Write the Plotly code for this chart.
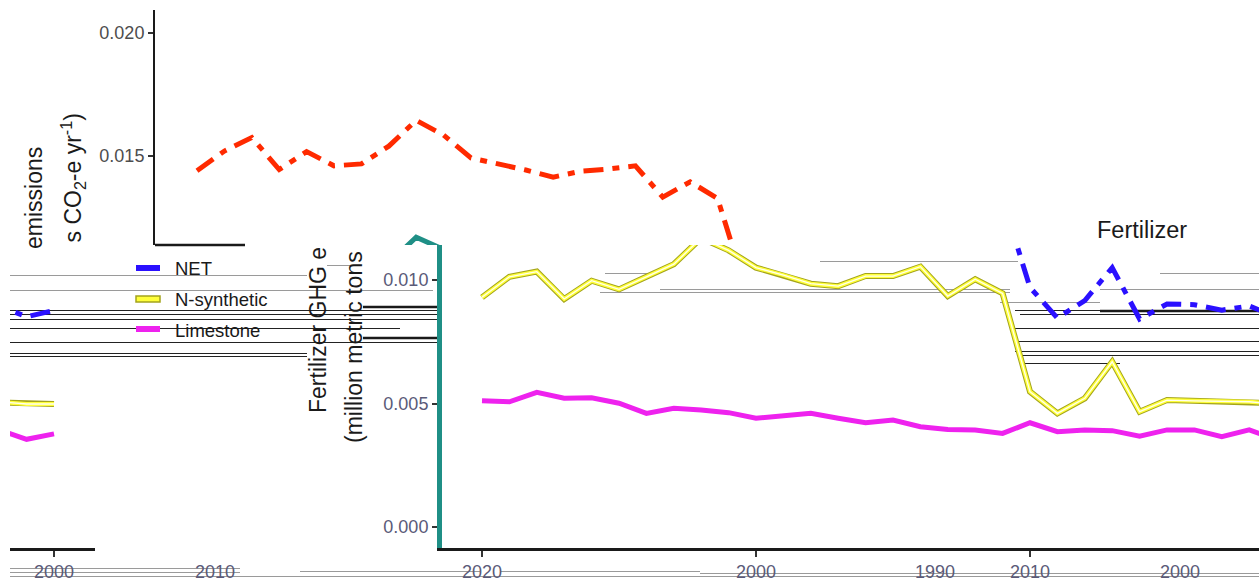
import plotly.graph_objects as go

# ---------------- data (values in million metric tons CO2-e) ----------------
years = list(range(1990, 2021))
net = [0.01440, 0.01520, 0.01575, 0.01445, 0.01518, 0.01460, 0.01468, 0.01540, 0.01645, 0.01585,
       0.01492, 0.01468, 0.01443, 0.01414, 0.01438, 0.01447, 0.01460, 0.01333, 0.01395, 0.01327,
       0.00970, 0.00846, 0.00917, 0.01050, 0.00842, 0.00903, 0.00900, 0.00878, 0.00895, 0.00851, 0.00877]
n_synthetic = [0.00930, 0.01013, 0.01034, 0.00923, 0.00997, 0.00962, 0.01013, 0.01064, 0.01170, 0.01120,
               0.01050, 0.01020, 0.00985, 0.00975, 0.01016, 0.01016, 0.01054, 0.00935, 0.01003, 0.00946,
               0.00548, 0.00460, 0.00521, 0.00669, 0.00467, 0.00514, 0.00511, 0.00510, 0.00507, 0.00498, 0.00498]
limestone = [0.00511, 0.00507, 0.00545, 0.00521, 0.00523, 0.00501, 0.00460, 0.00481, 0.00474, 0.00463,
             0.00440, 0.00449, 0.00460, 0.00440, 0.00422, 0.00433, 0.00406, 0.00395, 0.00393, 0.00379,
             0.00422, 0.00386, 0.00393, 0.00390, 0.00368, 0.00393, 0.00393, 0.00366, 0.00393, 0.00355, 0.00377]

series_names = ["NET", "N-synthetic", "Limestone"]
y_tick_top = [0.015, 0.020]
y_tick_main = [0.000, 0.005, 0.010]
x_tick_vals = [1990, 2000, 2010]
x_tick_text = ["2020", "2000", "2010"]
x_tick_vals_frag = [2020]
x_tick_text_frag = ["2000"]
title_text = "Fertilizer"
ytitle_1 = "Fertilizer GHG emissions"
ytitle_2 = "(million metric tons CO<sub>2</sub>-e yr<sup>-1</sup>)"

# ---------------- helpers ----------------
W, H = 1259, 581
def px(x):
    return x / W
def py(y):
    return 1 - y / H

FONT = "Arial, Liberation Sans, sans-serif"
TICK_GRAY = "#4d4d4d"
TICK_BLUE = "#5a5a78"
RED = "#ff2a00"
BLUE = "#2a10ff"
MAGENTA = "#ee22ee"
OLIVE = "#a4a41c"
YELLOW = "#ffff3a"
TEAL = "#1f8f86"
DASH = "20px,9px,7px,9px"

fig = go.Figure()

# --- top slice (shifted copy) ---
fig.add_trace(go.Scatter(x=years, y=net, mode="lines", xaxis="x", yaxis="y",
                         line=dict(color=RED, width=5, dash=DASH), showlegend=False))
fig.add_trace(go.Scatter(x=years, y=n_synthetic, mode="lines", xaxis="x", yaxis="y",
                         line=dict(color=TEAL, width=5), showlegend=False))

# --- main slice and wrapped fragment ---
for xa, ya in (("x2", "y2"), ("x3", "y3")):
    fig.add_trace(go.Scatter(x=years, y=limestone, mode="lines", xaxis=xa, yaxis=ya,
                             line=dict(color=MAGENTA, width=5), showlegend=False))
    fig.add_trace(go.Scatter(x=years, y=n_synthetic, mode="lines", xaxis=xa, yaxis=ya,
                             line=dict(color=OLIVE, width=6), showlegend=False))
    fig.add_trace(go.Scatter(x=years, y=n_synthetic, mode="lines", xaxis=xa, yaxis=ya,
                             line=dict(color=YELLOW, width=4), showlegend=False))
    fig.add_trace(go.Scatter(x=years, y=n_synthetic, mode="lines", xaxis=xa, yaxis=ya,
                             line=dict(color="#fffff0", width=1.3), showlegend=False))
    fig.add_trace(go.Scatter(x=years, y=net, mode="lines", xaxis=xa, yaxis=ya,
                             line=dict(color=BLUE, width=5, dash=DASH), showlegend=False))

# value scales: 24.6 px per 0.001 (top), 24.7 px per 0.001 (main)
top_lo = 0.020 - (245 - 33) / 24.6e3
top_hi = 0.020 + (33 - 10) / 24.6e3
main_lo = -(548 - 527) / 24.7e3
main_hi = (527 - 245) / 24.7e3
px_per_year = 27.4

fig.update_layout(
    width=W, height=H, autosize=False,
    margin=dict(l=0, r=0, t=0, b=0),
    paper_bgcolor="white", plot_bgcolor="rgba(0,0,0,0)",
    font=dict(family=FONT),
    showlegend=False,
    xaxis=dict(domain=[px(155), 1],
               range=[1990 - (197 - 155) / px_per_year, 1990 + (W - 197) / px_per_year],
               visible=False, anchor="y"),
    yaxis=dict(domain=[py(245), py(10)], range=[top_lo, top_hi], anchor="x",
               showline=True, linecolor="#1a1a1a", linewidth=2, ticks="outside",
               ticklen=5, tickwidth=2, tickcolor="#333333", tickvals=y_tick_top,
               tickformat=".3f", tickfont=dict(size=18, color=TICK_GRAY),
               showgrid=False, zeroline=False),
    xaxis2=dict(domain=[px(442), 1],
                range=[1990 - (482 - 442) / px_per_year, 1990 + (W - 482) / px_per_year],
                anchor="y2", showline=True, linecolor="#1a1a1a", linewidth=2.5,
                ticks="outside", ticklen=6, tickwidth=2, tickcolor="#333333",
                tickvals=x_tick_vals, ticktext=x_tick_text,
                tickfont=dict(size=18, color=TICK_BLUE), showgrid=False, zeroline=False),
    yaxis2=dict(domain=[py(548), py(245)], range=[main_lo, main_hi], anchor="x2",
                showline=True, linecolor=TEAL, linewidth=5, ticks="outside",
                ticklen=5, tickwidth=2, tickcolor="#333333", tickvals=y_tick_main,
                tickformat=".3f", tickfont=dict(size=18, color=TICK_BLUE),
                showgrid=False, zeroline=False),
    xaxis3=dict(domain=[px(10), px(95)],
                range=[2020 - (54 - 10) / px_per_year, 2020 + (95 - 54) / px_per_year],
                anchor="y3", showline=True, linecolor="#1a1a1a", linewidth=2.5,
                ticks="outside", ticklen=6, tickwidth=2, tickcolor="#333333",
                tickvals=x_tick_vals_frag, ticktext=x_tick_text_frag,
                tickfont=dict(size=18, color=TICK_BLUE), showgrid=False, zeroline=False),
    yaxis3=dict(domain=[py(548), py(245)], range=[main_lo, main_hi], anchor="x3",
                visible=False),
)

shapes = []
def hline(x0, x1, y, color, width):
    shapes.append(dict(type="line", xref="paper", yref="paper", x0=px(x0), x1=px(x1),
                       y0=py(y), y1=py(y), line=dict(color=color, width=width), layer="below"))

# short bottom axis of the top slice
shapes.append(dict(type="line", xref="paper", yref="paper", x0=px(155), x1=px(245),
                   y0=py(245), y1=py(245), line=dict(color="#1a1a1a", width=2.5)))

# horizontal scan-line artefacts
for (x0, x1, y) in [(10, 307, 275.5), (327, 350, 265.5), (10, 433, 290.5), (820, 1018, 261.5),
                    (1160, 1259, 273.5), (605, 660, 273.5), (660, 1010, 289.5), (600, 1010, 292.5),
                    (1100, 1259, 289.5), (1000, 1100, 302.5), (10, 240, 568.5), (300, 480, 571.5),
                    (500, 700, 571.5), (10, 240, 572.5), (700, 1259, 573.5), (10, 1259, 576.5)]:
    hline(x0, x1, y, "#9a9a9a", 1)
for (x0, x1, y) in [(10, 438, 310.5), (10, 438, 314.5), (10, 438, 319.5), (10, 400, 328.5),
                    (10, 438, 342.5), (10, 307, 353.5), (10, 307, 356.5), (1015, 1259, 310.5),
                    (1020, 1259, 314.5), (1015, 1259, 328.5), (1015, 1259, 341.5),
                    (1015, 1259, 351.5), (1020, 1259, 355.5), (1020, 1120, 363.5)]:
    hline(x0, x1, y, "#222222", 1)
for (x0, x1, y) in [(363, 438, 307), (363, 438, 338), (1100, 1259, 311)]:
    hline(x0, x1, y, "#1a1a1a", 2.5)

# legend keys
shapes.append(dict(type="line", xref="paper", yref="paper", x0=px(136), x1=px(160),
                   y0=py(268), y1=py(268), line=dict(color=BLUE, width=6)))
shapes.append(dict(type="rect", xref="paper", yref="paper", x0=px(136), x1=px(160),
                   y0=py(302), y1=py(296), line=dict(color=OLIVE, width=1.5),
                   fillcolor=YELLOW))
shapes.append(dict(type="line", xref="paper", yref="paper", x0=px(136), x1=px(160),
                   y0=py(329), y1=py(329), line=dict(color=MAGENTA, width=6)))
fig.update_layout(shapes=shapes)

ann = []
def text(x, y, s, size, color="#1a1a1a", xanchor="center", yanchor="middle", angle=0):
    ann.append(dict(x=px(x), y=py(y), xref="paper", yref="paper", text=s, showarrow=False,
                    xanchor=xanchor, yanchor=yanchor, textangle=angle,
                    font=dict(size=size, color=color, family=FONT), borderpad=0))

# legend labels
for name, yy in zip(series_names, (268, 299, 330)):
    text(174, yy, name, 18.5, xanchor="left")

# panel title
text(1142, 230, title_text, 23.5)

# y-axis title pieces (split by the slices)
text(34, 146, ytitle_1.split(" ")[-1], 23, yanchor="top", angle=-90)
text(72, 113, "s CO<sub>2</sub>-e yr<sup>-1</sup>)", 23, yanchor="top", angle=-90)
text(318, 414, "Fertilizer GHG e", 23, yanchor="bottom", angle=-90)
text(354, 444, "(million metric tons", 23, yanchor="bottom", angle=-90)

# stray tick labels from other slices
text(935, 572, "1990", 18, color=TICK_BLUE)
text(1180, 572, "2000", 18, color=TICK_BLUE)
text(215, 572, "2010", 18, color=TICK_BLUE)
fig.update_layout(annotations=ann)

fig.write_html(
    "out.html",
    config={"displayModeBar": False},
    post_script="document.body.style.margin='0';document.body.style.overflow='hidden';",
)
